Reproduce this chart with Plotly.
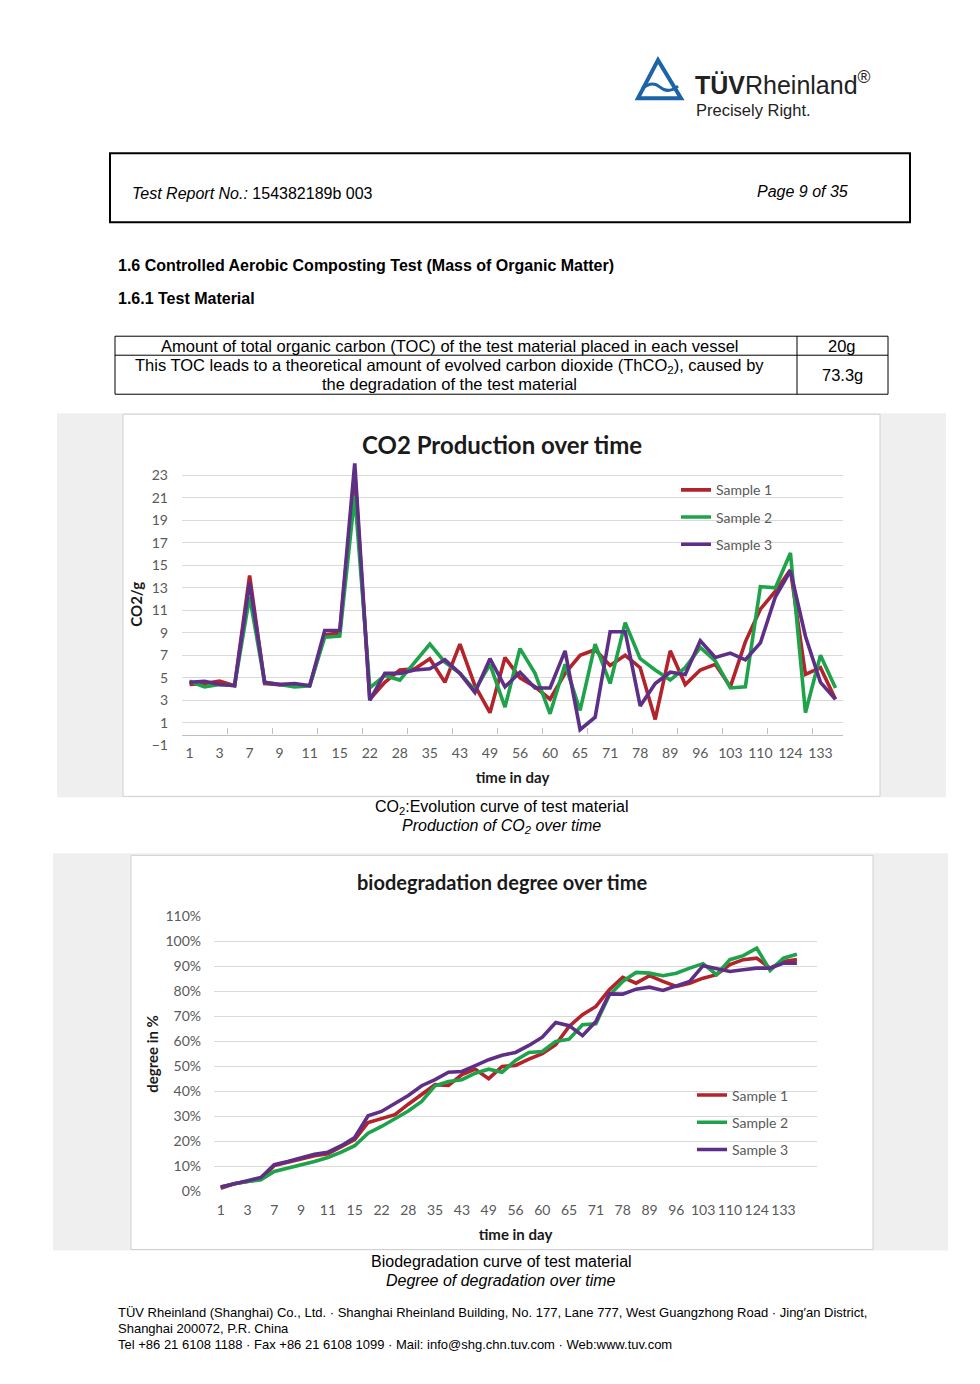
import plotly.graph_objects as go

W, H = 980, 1384

# ---------------- data ----------------
days = ["1", "2", "3", "4", "7", "8", "9", "10", "11", "14", "15", "18", "22", "25", "28",
        "31", "35", "39", "43", "46", "49", "52", "56", "58", "60", "63", "65", "68", "71",
        "75", "78", "85", "89", "92", "96", "99", "103", "106", "110", "117", "124", "129",
        "133", "138"]
label_days = days[0::2]
series_names = ["Sample 1", "Sample 2", "Sample 3"]
series_colors = ["#b3232b", "#1ea34b", "#5e2f86"]

co2_s1 = [4.4, 4.5, 4.7, 4.3, 14.1, 4.5, 4.4, 4.4, 4.3, 8.8, 9.0, 23.2, 3.1, 4.6, 5.7, 5.8,
          6.7, 4.6, 8.0, 4.3, 1.9, 6.8, 5.0, 4.2, 3.1, 5.4, 7.0, 7.5, 6.1, 7.0, 5.9, 1.3,
          7.4, 4.4, 5.7, 6.2, 4.2, 8.2, 11.1, 12.7, 14.6, 5.3, 5.9, 3.1]
co2_s2 = [4.7, 4.2, 4.4, 4.3, 12.2, 4.6, 4.4, 4.2, 4.3, 8.6, 8.7, 21.2, 4.1, 5.2, 4.8, 6.4,
          8.0, 6.4, 5.4, 3.9, 6.2, 2.4, 7.6, 5.4, 1.8, 6.2, 2.1, 8.0, 4.5, 9.9, 6.7, 5.7,
          4.8, 5.9, 7.7, 6.5, 4.1, 4.2, 13.1, 13.0, 16.1, 1.9, 7.0, 4.1]
co2_s3 = [4.6, 4.7, 4.4, 4.3, 13.5, 4.6, 4.4, 4.5, 4.3, 9.2, 9.2, 24.1, 3.0, 5.4, 5.4, 5.7,
          5.8, 6.6, 5.4, 3.7, 6.7, 4.2, 5.5, 4.1, 4.1, 7.4, 0.4, 1.5, 9.1, 9.1, 2.5, 4.5,
          5.5, 5.3, 8.3, 6.8, 7.2, 6.6, 8.1, 12.2, 14.5, 8.7, 4.6, 3.1]

bio_s1 = [1.3, 3.1, 4.0, 4.9, 10.4, 11.6, 12.9, 14.3, 15.1, 17.7, 20.7, 27.6, 29.3, 30.7,
          34.9, 38.7, 42.7, 42.4, 46.7, 48.9, 45.1, 50.0, 50.4, 52.9, 55.1, 58.7, 66.0,
          70.7, 74.0, 80.7, 85.6, 83.3, 86.3, 84.0, 82.0, 83.3, 85.3, 86.7, 90.7, 92.7,
          93.3, 89.3, 92.0, 92.7]
bio_s2 = [1.8, 3.1, 4.0, 4.7, 8.0, 9.3, 10.7, 12.0, 13.6, 15.7, 18.3, 23.3, 26.0, 28.9,
          32.2, 36.0, 42.3, 44.0, 44.7, 47.3, 48.9, 47.7, 52.4, 55.6, 56.0, 60.0, 60.9,
          66.7, 67.1, 78.5, 84.0, 87.6, 87.3, 86.3, 87.3, 89.3, 91.1, 86.7, 92.7, 94.3,
          97.3, 88.4, 93.3, 94.9]
bio_s3 = [1.8, 3.2, 4.3, 5.6, 10.7, 12.0, 13.3, 14.9, 15.7, 18.3, 21.6, 30.3, 32.0, 35.1,
          38.4, 42.3, 44.7, 47.7, 48.0, 50.3, 52.7, 54.5, 55.6, 58.4, 61.7, 67.6, 66.3,
          62.3, 68.0, 79.0, 78.9, 80.9, 81.7, 80.4, 82.3, 84.0, 90.3, 89.3, 88.0, 88.7,
          89.3, 89.3, 91.3, 91.3]

co2_ticks = list(range(-1, 24, 2))
bio_ticks = list(range(0, 111, 10))
bio_tick_labels = [f"{v}%" for v in bio_ticks]

# ---------------- helpers ----------------
# calibration of the page's vertical placement in the viewer
Y_SCALE, Y_OFF = 0.9874, 8.9


def px(x):
    return x / W


def py(y):
    return 1 - ((y - Y_OFF) / Y_SCALE) / H


DOC_FONT = "Liberation Sans, Arial, sans-serif"
NARROW_FONT = "Liberation Sans Narrow, Liberation Sans, Arial, sans-serif"
CHART_FONT = "Lato, Open Sans, sans-serif"
TICK_COLOR = "#595959"
GRID_COLOR = "#d9d9d9"
LINE_W = 3.6

fig = go.Figure()

for name, color, vals in zip(series_names, series_colors, [co2_s1, co2_s2, co2_s3]):
    fig.add_trace(go.Scatter(x=days, y=vals, mode="lines", name=name,
                             line=dict(color=color, width=LINE_W),
                             xaxis="x", yaxis="y", legend="legend",
                             legendgroup="c1" + name))

for name, color, vals in zip(series_names, series_colors, [bio_s1, bio_s2, bio_s3]):
    fig.add_trace(go.Scatter(x=days, y=vals, mode="lines", name=name,
                             line=dict(color=color, width=LINE_W),
                             xaxis="x2", yaxis="y2", legend="legend2",
                             legendgroup="c2" + name))

# helper axis for the CO2 chart's zero line with tick marks
fig.add_trace(go.Scatter(x=[None], y=[None], xaxis="x3", yaxis="y", showlegend=False,
                         hoverinfo="skip"))

# ---------------- shapes (page decoration) ----------------
shapes = []
shapes.append(dict(type="rect", xref="paper", yref="paper", x0=px(110), x1=px(910),
                   y0=py(222), y1=py(153), line=dict(color="black", width=2)))
shapes.append(dict(type="rect", xref="paper", yref="paper", x0=px(115), x1=px(888),
                   y0=py(394), y1=py(336), line=dict(color="black", width=1)))
shapes.append(dict(type="line", xref="paper", yref="paper", x0=px(115), x1=px(888),
                   y0=py(355), y1=py(355), line=dict(color="black", width=1)))
shapes.append(dict(type="line", xref="paper", yref="paper", x0=px(797), x1=px(797),
                   y0=py(394), y1=py(336), line=dict(color="black", width=1)))
shapes.append(dict(type="rect", xref="paper", yref="paper", x0=px(57), x1=px(946),
                   y0=py(797), y1=py(413), fillcolor="#efefef", line=dict(width=0),
                   layer="below"))
shapes.append(dict(type="rect", xref="paper", yref="paper", x0=px(123), x1=px(880),
                   y0=py(796), y1=py(414), fillcolor="white",
                   line=dict(color="#d0d0d0", width=1), layer="below"))
shapes.append(dict(type="rect", xref="paper", yref="paper", x0=px(53), x1=px(948),
                   y0=py(1250), y1=py(853), fillcolor="#efefef", line=dict(width=0),
                   layer="below"))
shapes.append(dict(type="rect", xref="paper", yref="paper", x0=px(131), x1=px(873),
                   y0=py(1249), y1=py(855), fillcolor="white",
                   line=dict(color="#d0d0d0", width=1), layer="below"))
tri = "M {} {} L {} {} L {} {} Z".format(px(638), py(98), px(658), py(60), px(681), py(98))
shapes.append(dict(type="path", xref="paper", yref="paper", path=tri,
                   line=dict(color="#1d63a8", width=4)))
wave = "M {} {} Q {} {} {} {} Q {} {} {} {}".format(px(642), py(89), px(652), py(80),
                                                   px(660), py(87), px(668), py(94),
                                                   px(678), py(86))
shapes.append(dict(type="path", xref="paper", yref="paper", path=wave,
                   line=dict(color="#1d63a8", width=3)))

# ---------------- annotations (page text) ----------------
ann = []


def text(x, y, s, size=16, family=DOC_FONT, color="black", xanchor="left", **kw):
    ann.append(dict(xref="paper", yref="paper", x=px(x), y=py(y), text=s, showarrow=False,
                    xanchor=xanchor, yanchor="middle",
                    font=dict(size=size, family=family, color=color), **kw))


text(693, 83, "<b>TÜV</b>Rheinland<sup>®</sup>", size=25, family="Liberation Sans, Arial",
     color="#222222")
text(694, 110, "Precisely Right.", size=16.5, color="#222222")
text(130, 193, "<i>Test Report No.:</i> 154382189b 003", size=16)
text(850, 191, "<i>Page 9 of 35</i>", size=16, xanchor="right")
text(116, 265, "<b>1.6 Controlled Aerobic Composting Test (Mass of Organic Matter)</b>", size=16)
text(116, 298, "<b>1.6.1 Test Material</b>", size=16)
text(449, 346, "Amount of total organic carbon (TOC) of the test material placed in each vessel",
     size=16.5, family=NARROW_FONT, xanchor="center")
text(449, 366, "This TOC leads to a theoretical amount of evolved carbon dioxide (ThCO<sub>2</sub>), caused by",
     size=16.5, family=NARROW_FONT, xanchor="center")
text(449, 384, "the degradation of the test material",
     size=16.5, family=NARROW_FONT, xanchor="center")
text(842, 346, "20g", size=16.5, family=NARROW_FONT, xanchor="center")
text(842, 375, "73.3g", size=16.5, family=NARROW_FONT, xanchor="center")

text(502, 444, "<b>CO2 Production over time</b>", size=24, family=CHART_FONT,
     color="#1a1a1a", xanchor="center")
text(501, 807, "CO<sub>2</sub>:Evolution curve of test material", size=16, xanchor="center")
text(501, 826, "<i>Production of CO<sub>2</sub> over time</i>", size=16, xanchor="center")

text(502, 882, "<b>biodegradation degree over time</b>", size=20, family=CHART_FONT,
     color="#1a1a1a", xanchor="center")
text(501, 1261, "Biodegradation curve of test material", size=16, xanchor="center")
text(501, 1280, "<i>Degree of degradation over time</i>", size=16, xanchor="center")

text(116, 1312, "TÜV Rheinland (Shanghai) Co., Ltd. · Shanghai Rheinland Building, No. 177, Lane 777, West Guangzhong Road · Jing′an District,",
     size=13)
text(116, 1328, "Shanghai 200072, P.R. China", size=13)
text(116, 1344, "Tel +86 21 6108 1188 · Fax +86 21 6108 1099 · Mail: info@shg.chn.tuv.com · Web:www.tuv.com",
     size=13)

# ---------------- axes ----------------
tickfont = dict(family=CHART_FONT, size=14, color=TICK_COLOR)
legfont = dict(family=CHART_FONT, size=14, color=TICK_COLOR)
axtitle_font = dict(family=CHART_FONT, size=15, color="#1a1a1a")

c1_x = [px(182), px(843)]
c1_y = [py(745), py(463)]
c2_x = [px(214), px(817)]
c2_y = [py(1191), py(916)]

fig.update_layout(
    width=W, height=H,
    margin=dict(l=0, r=0, t=0, b=0),
    paper_bgcolor="white", plot_bgcolor="rgba(0,0,0,0)",
    showlegend=True,
    shapes=shapes, annotations=ann,
    xaxis=dict(domain=c1_x, anchor="y", type="category", categoryorder="array",
               categoryarray=days, range=[-0.5, len(days) - 0.5], tickvals=label_days,
               ticks="", showgrid=False, showline=False, zeroline=False,
               tickfont=tickfont, ticklabelstandoff=-2,
               title=dict(text="<b>time in day</b>", font=axtitle_font, standoff=12)),
    yaxis=dict(domain=c1_y, anchor="x", range=[-1, 24.07], tickvals=co2_ticks,
               gridcolor=GRID_COLOR, gridwidth=1.3, zeroline=False, showline=False,
               tickfont=tickfont, ticks="", ticklabelstandoff=13,
               title=dict(text="<b>CO2/g</b>", font=axtitle_font, standoff=5)),
    xaxis3=dict(domain=c1_x, anchor="free", overlaying="x", position=py(734.3),
                range=[0, len(days)], tickvals=list(range(0, len(days), 3)),
                ticks="inside", ticklen=6, tickwidth=1.3, tickcolor="#bfbfbf",
                showline=True, linecolor="#bfbfbf", linewidth=1.3,
                showticklabels=False, showgrid=False, zeroline=False),
    xaxis2=dict(domain=c2_x, anchor="y2", type="category", categoryorder="array",
                categoryarray=days, range=[-0.5, len(days) + 0.5], tickvals=label_days,
                ticks="", showgrid=False, showline=False, zeroline=False,
                tickfont=tickfont, ticklabelstandoff=9,
                title=dict(text="<b>time in day</b>", font=axtitle_font, standoff=12)),
    yaxis2=dict(domain=c2_y, anchor="x2", range=[0, 110], tickvals=bio_ticks,
                ticktext=bio_tick_labels, gridcolor=GRID_COLOR, gridwidth=1.3,
                zeroline=False, showline=False, tickfont=tickfont, ticks="",
                ticklabelstandoff=12,
                title=dict(text="<b>degree in %</b>", font=axtitle_font, standoff=3)),
    legend=dict(x=px(676), y=py(474), xanchor="left", yanchor="top",
                bgcolor="rgba(0,0,0,0)", font=legfont, tracegroupgap=6, itemwidth=30),
    legend2=dict(x=px(692), y=py(1079), xanchor="left", yanchor="top",
                 bgcolor="rgba(0,0,0,0)", font=legfont, tracegroupgap=6, itemwidth=30),
)

fig.write_html(
    "out.html",
    config={"displayModeBar": False},
    post_script=(
        "document.body.style.margin='0';document.body.style.padding='0';"
        "var d=document.getElementById('{plot_id}');"
        "d.style.position='absolute';d.style.top='0px';d.style.left='0px';"
    ),
)
